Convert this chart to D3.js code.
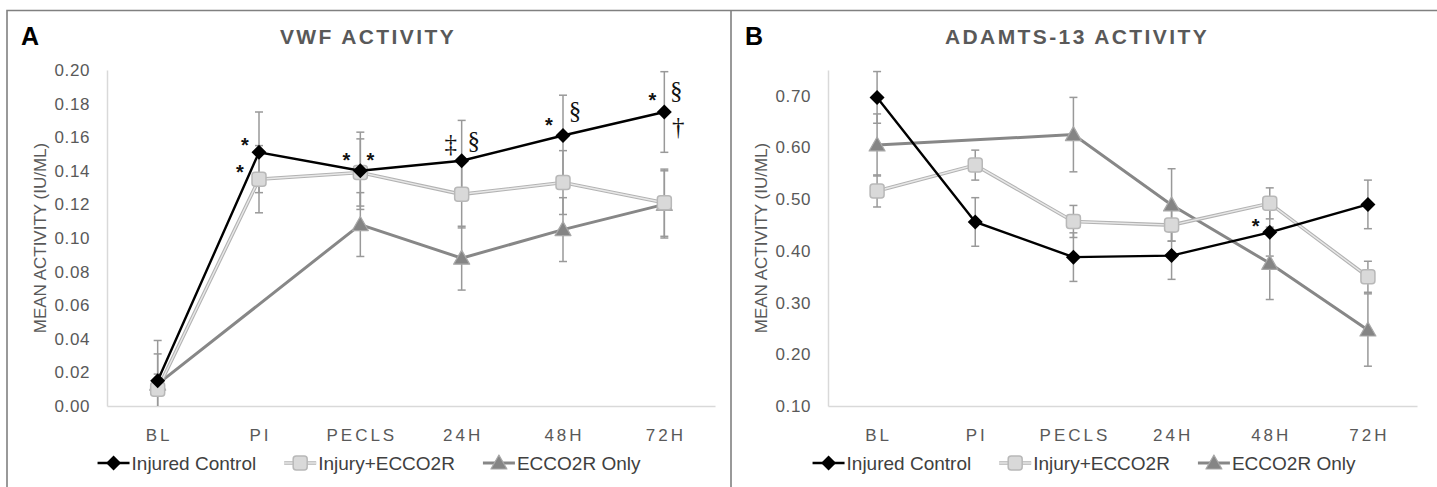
<!DOCTYPE html>
<html>
<head>
<meta charset="utf-8">
<script src="https://cdn.jsdelivr.net/npm/d3@7"></script>
<style>
  body { margin: 0; background: #fff; }
  svg { display: block; font-family: "Liberation Sans", Arial, sans-serif; }
</style>
</head>
<body>
<div id="chart"></div>
<script>
// --------------- Data ---------------
const categories = ["BL", "PI", "PECLS", "24H", "48H", "72H"];
const seriesNames = ["Injured Control", "Injury+ECCO2R", "ECCO2R Only"];

// panel A : VWF activity
const vwfTicks = [0, 0.02, 0.04, 0.06, 0.08, 0.1, 0.12, 0.14, 0.16, 0.18, 0.2];
const vwfInjured = [0.015, 0.151, 0.14, 0.146, 0.161, 0.175];
const vwfInjuredErr = [0.024, 0.024, 0.023, 0.024, 0.024, 0.024];
const vwfInjuryEcco = [0.01, 0.135, 0.139, 0.126, 0.133, 0.121];
const vwfInjuryEccoErr = [0.021, 0.02, 0.02, 0.02, 0.019, 0.02];
const vwfEcco = [0.013, null, 0.108, 0.088, 0.105, 0.12];
const vwfEccoErr = [0.006, null, 0.019, 0.019, 0.019, 0.02];
const vwfMarks = [
  ["PI", 0.1573, "*"], ["PI", 0.1411, "*"],
  ["PECLS", 0.1484, "*"], ["PECLS", 0.1484, "*"],
  ["24H", 0.1554, "‡"], ["24H", 0.1573, "§"],
  ["48H", 0.1692, "*"], ["48H", 0.1752, "§"],
  ["72H", 0.1842, "*"], ["72H", 0.1871, "§"], ["72H", 0.1655, "†"],
];

// panel B : ADAMTS-13 activity
const adamtsTicks = [0.1, 0.2, 0.3, 0.4, 0.5, 0.6, 0.7];
const adamtsInjured = [0.697, 0.456, 0.388, 0.391, 0.436, 0.49];
const adamtsInjuredErr = [0.05, 0.047, 0.047, 0.046, 0.046, 0.047];
const adamtsInjuryEcco = [0.516, 0.566, 0.457, 0.45, 0.492, 0.35];
const adamtsInjuryEccoErr = [0.031, 0.029, 0.031, 0.031, 0.03, 0.03];
const adamtsEcco = [0.605, null, 0.625, 0.489, 0.376, 0.247];
const adamtsEccoErr = [0.06, null, 0.072, 0.07, 0.07, 0.07];
const adamtsMarks = [["48H", 0.4545, "*"]];

// --------------- Layout ---------------
const WIDTH = 1437, HEIGHT = 487;
const PLOT_TOP = 70, PLOT_BOTTOM = 406;
const markOffsets = [[-14, -19, -14, 10, -11, 12, -14, 12, -12, 12, 14], [-14]];

const panels = [
  {
    letter: "A", title: "VWF ACTIVITY", left: 7, right: 731, titleX: 368,
    xRange: [107, 715], yDomain: [0, 0.2], ticks: vwfTicks,
    series: [vwfEcco, vwfInjuryEcco, vwfInjured],
    errs: [vwfEccoErr, vwfInjuryEccoErr, vwfInjuredErr],
    marks: vwfMarks,
  },
  {
    letter: "B", title: "ADAMTS-13 ACTIVITY", left: 731, right: 1437, titleX: 1077,
    xRange: [828, 1417], yDomain: [0.1, 0.75], ticks: adamtsTicks,
    series: [adamtsEcco, adamtsInjuryEcco, adamtsInjured],
    errs: [adamtsEccoErr, adamtsInjuryEccoErr, adamtsInjuredErr],
    marks: adamtsMarks,
  },
];

const svg = d3.select("#chart").append("svg")
  .attr("width", WIDTH).attr("height", HEIGHT);

// frame
svg.append("path")
  .attr("d", `M7,${HEIGHT + 5}V10.5H${WIDTH + 5}M731,10.5V${HEIGHT + 5}`)
  .attr("fill", "none").attr("stroke", "#808080").attr("stroke-width", 1.6);

// marker drawers, order: ECCO2R only, Injury+ECCO2R, Injured control
const drawMarker = [
  (g) => g.append("path").attr("d", "M0,-8L8,6L-8,6Z")
    .attr("fill", "#858585").attr("stroke", "#a8a8a8").attr("stroke-width", 1.2)
    .attr("stroke-linejoin", "round"),
  (g) => g.append("rect").attr("x", -7).attr("y", -7).attr("width", 14).attr("height", 14)
    .attr("rx", 3).attr("fill", "#d9d9d9").attr("stroke", "#b8b8b8").attr("stroke-width", 1.5),
  (g) => g.append("path").attr("d", "M0,-7.5L7.5,0L0,7.5L-7.5,0Z").attr("fill", "#000"),
];
const drawLine = [
  (g, d) => g.append("path").attr("d", d).attr("fill", "none")
    .attr("stroke", "#878787").attr("stroke-width", 3),
  (g, d) => {
    g.append("path").attr("d", d).attr("fill", "none")
      .attr("stroke", "#b3b3b3").attr("stroke-width", 3.6);
    g.append("path").attr("d", d).attr("fill", "none")
      .attr("stroke", "#e8e8e8").attr("stroke-width", 1.4);
  },
  (g, d) => g.append("path").attr("d", d).attr("fill", "none")
    .attr("stroke", "#000").attr("stroke-width", 2.4),
];

panels.forEach((p, pi) => {
  const g = svg.append("g");
  const x = d3.scaleBand().domain(categories).range(p.xRange);
  const y = d3.scaleLinear().domain(p.yDomain).range([PLOT_BOTTOM, PLOT_TOP]);
  const cx = (c) => x(c) + x.bandwidth() / 2;

  // letter + title
  g.append("text").attr("x", p.left + 14).attr("y", 45)
    .attr("font-size", 25).attr("font-weight", "bold").attr("fill", "#000").text(p.letter);
  g.append("text").attr("x", p.titleX).attr("y", 44).attr("text-anchor", "middle")
    .attr("font-size", 21).attr("font-weight", "bold").attr("letter-spacing", 2.4)
    .attr("fill", "#595959").text(p.title);

  // y axis
  const yAxis = g.append("g").attr("transform", `translate(${p.xRange[0]},0)`)
    .call(d3.axisLeft(y).tickValues(p.ticks).tickFormat(d3.format(".2f"))
      .tickSize(0).tickPadding(17));
  yAxis.select(".domain").attr("stroke", "#d9d9d9").attr("stroke-width", 1.5);
  yAxis.selectAll("text").attr("font-size", 17).attr("fill", "#595959")
    .attr("font-family", "Liberation Sans, Arial, sans-serif").attr("letter-spacing", 0.6);

  // x axis
  const xAxis = g.append("g").attr("transform", `translate(0,${PLOT_BOTTOM})`)
    .call(d3.axisBottom(x).tickSize(0).tickPadding(23));
  xAxis.select(".domain").attr("stroke", "#d9d9d9").attr("stroke-width", 1.5);
  xAxis.selectAll("text").attr("font-size", 17).attr("fill", "#595959")
    .attr("font-family", "Liberation Sans, Arial, sans-serif")
    .attr("letter-spacing", 3).attr("dx", 1.5);

  // y title
  g.append("text")
    .attr("transform", `translate(${p.xRange[0] - 67},${(PLOT_TOP + PLOT_BOTTOM) / 2}) rotate(-90)`)
    .attr("text-anchor", "middle").attr("dy", "0.35em")
    .attr("font-size", 17).attr("fill", "#595959").text("MEAN ACTIVITY (IU/ML)");

  // error bars (behind everything)
  const eg = g.append("g").attr("stroke", "#999").attr("stroke-width", 1.5);
  p.series.forEach((vals, si) => {
    vals.forEach((v, i) => {
      if (v == null) return;
      const e = p.errs[si][i];
      const xx = cx(categories[i]);
      const y0 = Math.min(y(Math.max(v - e, p.yDomain[0])), PLOT_BOTTOM);
      const y1 = y(v + e);
      eg.append("line").attr("x1", xx).attr("x2", xx).attr("y1", y0).attr("y2", y1);
      eg.append("line").attr("x1", xx - 4).attr("x2", xx + 4).attr("y1", y1).attr("y2", y1);
      if (v - e > p.yDomain[0])
        eg.append("line").attr("x1", xx - 4).attr("x2", xx + 4).attr("y1", y0).attr("y2", y0);
    });
  });

  // lines and markers
  p.series.forEach((vals, si) => {
    const pts = vals.map((v, i) => [categories[i], v]).filter((d) => d[1] != null);
    const line = d3.line().x((d) => cx(d[0])).y((d) => y(d[1]));
    const sg = g.append("g");
    drawLine[si](sg, line(pts));
    pts.forEach((d) => {
      const m = sg.append("g").attr("transform", `translate(${cx(d[0])},${y(d[1])})`);
      drawMarker[si](m);
    });
  });

  // significance marks
  p.marks.forEach((m, i) => {
    const isStar = m[2] === "*";
    const fs = isStar ? 20 : 25;
    g.append("text")
      .attr("x", cx(m[0]) + markOffsets[pi][i])
      .attr("y", y(m[1]) + (isStar ? 0.52 : 0.28) * fs)
      .attr("text-anchor", "middle")
      .attr("font-size", fs)
      .attr("font-weight", isStar ? "bold" : "normal")
      .attr("font-family", isStar ? "Liberation Sans, Arial, sans-serif" : "Liberation Serif, Times New Roman, serif")
      .attr("fill", "#111")
      .text(m[2]);
  });

  // legend, centered in panel
  const lg = g.append("g");
  let lx = 0;
  const order = [2, 1, 0];
  order.forEach((si, k) => {
    const item = lg.append("g").attr("transform", `translate(${lx},0)`);
    drawLine[si](item, "M0,0H32");
    drawMarker[si](item.append("g").attr("transform", "translate(16,0)"));
    const t = item.append("text").attr("x", 34).attr("dy", "0.35em")
      .attr("font-size", 19).attr("fill", "#404040").text(seriesNames[k]);
    lx += 34 + t.node().getComputedTextLength() + 28;
  });
  lx -= 28;
  lg.attr("transform", `translate(${(p.left + p.right) / 2 - lx / 2},463)`);
});
</script>
</body>
</html>
